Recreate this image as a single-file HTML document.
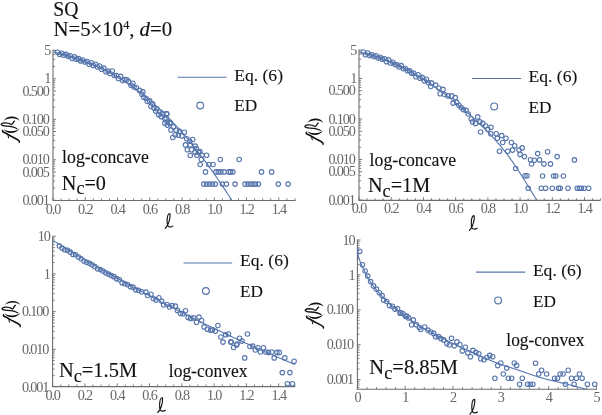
<!DOCTYPE html><html><head><meta charset="utf-8"><style>
html,body{margin:0;padding:0;background:#fff;}
svg{display:block;will-change:transform;}
text{font-family:"Liberation Serif",serif;}
.tl{font-size:14.2px;letter-spacing:-1.15px;fill:#666666;}
.big{font-size:20.6px;fill:#111;stroke:#111;stroke-width:0.12px;}
.ann{font-size:17.9px;fill:#111;stroke:#111;stroke-width:0.12px;}
.leg{font-size:17.7px;fill:#111;stroke:#111;stroke-width:0.1px;}
.fl{font-size:19px;font-style:italic;fill:#111;}
.xl{font-size:19px;font-style:italic;fill:#111;}
</style></head><body>
<svg width="602" height="415" viewBox="0 0 602 415">
<rect width="602" height="415" fill="#fff"/>
<path d="M53 49.6V200.5H295.6" fill="none" stroke="#6e6e6e" stroke-width="1.1"/>
<path d="M53 200.3h3.2M53 188.11h2.1M53 180.98h2.1M53 175.92h2.1M53 171.99h3.2M53 168.78h2.1M53 166.07h2.1M53 163.72h2.1M53 161.65h2.1M53 159.8h3.2M53 147.61h2.1M53 140.48h2.1M53 135.42h2.1M53 131.49h3.2M53 128.28h2.1M53 125.57h2.1M53 123.22h2.1M53 121.15h2.1M53 119.3h3.2M53 107.11h2.1M53 99.98h2.1M53 94.92h2.1M53 90.99h3.2M53 87.78h2.1M53 85.07h2.1M53 82.72h2.1M53 80.65h2.1M53 78.8h3.2M53 66.61h2.1M53 59.48h2.1M53 54.42h2.1M53 50.49h3.2M53 200.5v-3.2M85.26 200.5v-3.2M117.52 200.5v-3.2M149.78 200.5v-3.2M182.04 200.5v-3.2M214.3 200.5v-3.2M246.56 200.5v-3.2M278.82 200.5v-3.2M61.06 200.5v-2.1M69.13 200.5v-2.1M77.2 200.5v-2.1M93.33 200.5v-2.1M101.39 200.5v-2.1M109.46 200.5v-2.1M125.59 200.5v-2.1M133.65 200.5v-2.1M141.72 200.5v-2.1M157.85 200.5v-2.1M165.91 200.5v-2.1M173.98 200.5v-2.1M190.11 200.5v-2.1M198.17 200.5v-2.1M206.24 200.5v-2.1M222.37 200.5v-2.1M230.43 200.5v-2.1M238.5 200.5v-2.1M254.62 200.5v-2.1M262.69 200.5v-2.1M270.75 200.5v-2.1M286.89 200.5v-2.1M294.95 200.5v-2.1" stroke="#6e6e6e" stroke-width="0.9" fill="none"/>
<text transform="translate(50.1 55.09) scale(1.0 1)" text-anchor="end" class="tl">5</text>
<text transform="translate(50.1 83.4) scale(1.0 1)" text-anchor="end" class="tl">1</text>
<text transform="translate(48.6 95.59) scale(1.0 1)" text-anchor="end" class="tl">0.500</text>
<text transform="translate(48.6 123.9) scale(1.0 1)" text-anchor="end" class="tl">0.100</text>
<text transform="translate(48.6 136.09) scale(1.0 1)" text-anchor="end" class="tl">0.050</text>
<text transform="translate(48.6 164.4) scale(1.0 1)" text-anchor="end" class="tl">0.010</text>
<text transform="translate(48.6 176.59) scale(1.0 1)" text-anchor="end" class="tl">0.005</text>
<text transform="translate(48.6 204.9) scale(1.0 1)" text-anchor="end" class="tl">0.001</text>
<text transform="translate(53 213.5) scale(1.0 1)" text-anchor="middle" class="tl">0.0</text>
<text transform="translate(85.26 213.5) scale(1.0 1)" text-anchor="middle" class="tl">0.2</text>
<text transform="translate(117.52 213.5) scale(1.0 1)" text-anchor="middle" class="tl">0.4</text>
<text transform="translate(149.78 213.5) scale(1.0 1)" text-anchor="middle" class="tl">0.6</text>
<text transform="translate(182.04 213.5) scale(1.0 1)" text-anchor="middle" class="tl">0.8</text>
<text transform="translate(214.3 213.5) scale(1.0 1)" text-anchor="middle" class="tl">1.0</text>
<text transform="translate(246.56 213.5) scale(1.0 1)" text-anchor="middle" class="tl">1.2</text>
<text transform="translate(278.82 213.5) scale(1.0 1)" text-anchor="middle" class="tl">1.4</text>
<path d="M359 49.6V200.4H600.5" fill="none" stroke="#6e6e6e" stroke-width="1.1"/>
<path d="M359 200h3.2M359 187.81h2.1M359 180.68h2.1M359 175.62h2.1M359 171.69h3.2M359 168.48h2.1M359 165.77h2.1M359 163.42h2.1M359 161.35h2.1M359 159.5h3.2M359 147.31h2.1M359 140.18h2.1M359 135.12h2.1M359 131.19h3.2M359 127.98h2.1M359 125.27h2.1M359 122.92h2.1M359 120.85h2.1M359 119h3.2M359 106.81h2.1M359 99.68h2.1M359 94.62h2.1M359 90.69h3.2M359 87.48h2.1M359 84.77h2.1M359 82.42h2.1M359 80.35h2.1M359 78.5h3.2M359 66.31h2.1M359 59.18h2.1M359 54.12h2.1M359 50.19h3.2M359 200.4v-3.2M391.22 200.4v-3.2M423.44 200.4v-3.2M455.66 200.4v-3.2M487.88 200.4v-3.2M520.1 200.4v-3.2M552.32 200.4v-3.2M584.54 200.4v-3.2M367.06 200.4v-2.1M375.11 200.4v-2.1M383.17 200.4v-2.1M399.27 200.4v-2.1M407.33 200.4v-2.1M415.38 200.4v-2.1M431.5 200.4v-2.1M439.55 200.4v-2.1M447.61 200.4v-2.1M463.72 200.4v-2.1M471.77 200.4v-2.1M479.82 200.4v-2.1M495.94 200.4v-2.1M503.99 200.4v-2.1M512.05 200.4v-2.1M528.15 200.4v-2.1M536.21 200.4v-2.1M544.26 200.4v-2.1M560.38 200.4v-2.1M568.43 200.4v-2.1M576.49 200.4v-2.1M592.6 200.4v-2.1M600.65 200.4v-2.1" stroke="#6e6e6e" stroke-width="0.9" fill="none"/>
<text transform="translate(356.1 54.79) scale(1.0 1)" text-anchor="end" class="tl">5</text>
<text transform="translate(356.1 83.1) scale(1.0 1)" text-anchor="end" class="tl">1</text>
<text transform="translate(354.6 95.29) scale(1.0 1)" text-anchor="end" class="tl">0.500</text>
<text transform="translate(354.6 123.6) scale(1.0 1)" text-anchor="end" class="tl">0.100</text>
<text transform="translate(354.6 135.79) scale(1.0 1)" text-anchor="end" class="tl">0.050</text>
<text transform="translate(354.6 164.1) scale(1.0 1)" text-anchor="end" class="tl">0.010</text>
<text transform="translate(354.6 176.29) scale(1.0 1)" text-anchor="end" class="tl">0.005</text>
<text transform="translate(354.6 204.6) scale(1.0 1)" text-anchor="end" class="tl">0.001</text>
<text transform="translate(359 213.4) scale(1.0 1)" text-anchor="middle" class="tl">0.0</text>
<text transform="translate(391.22 213.4) scale(1.0 1)" text-anchor="middle" class="tl">0.2</text>
<text transform="translate(423.44 213.4) scale(1.0 1)" text-anchor="middle" class="tl">0.4</text>
<text transform="translate(455.66 213.4) scale(1.0 1)" text-anchor="middle" class="tl">0.6</text>
<text transform="translate(487.88 213.4) scale(1.0 1)" text-anchor="middle" class="tl">0.8</text>
<text transform="translate(520.1 213.4) scale(1.0 1)" text-anchor="middle" class="tl">1.0</text>
<text transform="translate(552.32 213.4) scale(1.0 1)" text-anchor="middle" class="tl">1.2</text>
<text transform="translate(584.54 213.4) scale(1.0 1)" text-anchor="middle" class="tl">1.4</text>
<path d="M52.6 236.2V386.6H295.2" fill="none" stroke="#6e6e6e" stroke-width="1.1"/>
<path d="M52.6 375.65h2.1M52.6 369.01h2.1M52.6 364.3h2.1M52.6 360.65h2.1M52.6 357.66h2.1M52.6 355.14h2.1M52.6 352.95h2.1M52.6 351.03h2.1M52.6 349.3h3.2M52.6 337.95h2.1M52.6 331.31h2.1M52.6 326.6h2.1M52.6 322.95h2.1M52.6 319.96h2.1M52.6 317.44h2.1M52.6 315.25h2.1M52.6 313.33h2.1M52.6 311.6h3.2M52.6 300.25h2.1M52.6 293.61h2.1M52.6 288.9h2.1M52.6 285.25h2.1M52.6 282.26h2.1M52.6 279.74h2.1M52.6 277.55h2.1M52.6 275.63h2.1M52.6 273.9h3.2M52.6 262.55h2.1M52.6 255.91h2.1M52.6 251.2h2.1M52.6 247.55h2.1M52.6 244.56h2.1M52.6 242.04h2.1M52.6 239.85h2.1M52.6 237.93h2.1M52.6 236.2h3.2M52.6 386.6v-3.2M84.9 386.6v-3.2M117.2 386.6v-3.2M149.5 386.6v-3.2M181.8 386.6v-3.2M214.1 386.6v-3.2M246.4 386.6v-3.2M278.7 386.6v-3.2M60.68 386.6v-2.1M68.75 386.6v-2.1M76.83 386.6v-2.1M92.97 386.6v-2.1M101.05 386.6v-2.1M109.12 386.6v-2.1M125.28 386.6v-2.1M133.35 386.6v-2.1M141.43 386.6v-2.1M157.58 386.6v-2.1M165.65 386.6v-2.1M173.72 386.6v-2.1M189.88 386.6v-2.1M197.95 386.6v-2.1M206.03 386.6v-2.1M222.18 386.6v-2.1M230.25 386.6v-2.1M238.33 386.6v-2.1M254.47 386.6v-2.1M262.55 386.6v-2.1M270.62 386.6v-2.1M286.78 386.6v-2.1M294.85 386.6v-2.1" stroke="#6e6e6e" stroke-width="0.9" fill="none"/>
<text transform="translate(49.7 240.8) scale(1.0 1)" text-anchor="end" class="tl">10</text>
<text transform="translate(49.7 278.5) scale(1.0 1)" text-anchor="end" class="tl">1</text>
<text transform="translate(48.2 316.2) scale(1.0 1)" text-anchor="end" class="tl">0.100</text>
<text transform="translate(48.2 353.9) scale(1.0 1)" text-anchor="end" class="tl">0.010</text>
<text transform="translate(48.2 391.6) scale(1.0 1)" text-anchor="end" class="tl">0.001</text>
<text transform="translate(52.6 399.6) scale(1.0 1)" text-anchor="middle" class="tl">0.0</text>
<text transform="translate(84.9 399.6) scale(1.0 1)" text-anchor="middle" class="tl">0.2</text>
<text transform="translate(117.2 399.6) scale(1.0 1)" text-anchor="middle" class="tl">0.4</text>
<text transform="translate(149.5 399.6) scale(1.0 1)" text-anchor="middle" class="tl">0.6</text>
<text transform="translate(181.8 399.6) scale(1.0 1)" text-anchor="middle" class="tl">0.8</text>
<text transform="translate(214.1 399.6) scale(1.0 1)" text-anchor="middle" class="tl">1.0</text>
<text transform="translate(246.4 399.6) scale(1.0 1)" text-anchor="middle" class="tl">1.2</text>
<text transform="translate(278.7 399.6) scale(1.0 1)" text-anchor="middle" class="tl">1.4</text>
<path d="M357.4 239.6V389.3H597" fill="none" stroke="#6e6e6e" stroke-width="1.1"/>
<path d="M357.4 387.34h2.1M357.4 385.01h2.1M357.4 382.98h2.1M357.4 381.2h2.1M357.4 379.6h3.2M357.4 369.09h2.1M357.4 362.95h2.1M357.4 358.59h2.1M357.4 355.21h2.1M357.4 352.44h2.1M357.4 350.11h2.1M357.4 348.08h2.1M357.4 346.3h2.1M357.4 344.7h3.2M357.4 334.19h2.1M357.4 328.05h2.1M357.4 323.69h2.1M357.4 320.31h2.1M357.4 317.54h2.1M357.4 315.21h2.1M357.4 313.18h2.1M357.4 311.4h2.1M357.4 309.8h3.2M357.4 299.29h2.1M357.4 293.15h2.1M357.4 288.79h2.1M357.4 285.41h2.1M357.4 282.64h2.1M357.4 280.31h2.1M357.4 278.28h2.1M357.4 276.5h2.1M357.4 274.9h3.2M357.4 264.39h2.1M357.4 258.25h2.1M357.4 253.89h2.1M357.4 250.51h2.1M357.4 247.74h2.1M357.4 245.41h2.1M357.4 243.38h2.1M357.4 241.6h2.1M357.4 240h3.2M357.4 389.3v-3.2M405.2 389.3v-3.2M453 389.3v-3.2M500.8 389.3v-3.2M548.6 389.3v-3.2M596.4 389.3v-3.2M366.96 389.3v-2.1M376.52 389.3v-2.1M386.08 389.3v-2.1M395.64 389.3v-2.1M414.76 389.3v-2.1M424.32 389.3v-2.1M433.88 389.3v-2.1M443.44 389.3v-2.1M462.56 389.3v-2.1M472.12 389.3v-2.1M481.68 389.3v-2.1M491.24 389.3v-2.1M510.36 389.3v-2.1M519.92 389.3v-2.1M529.48 389.3v-2.1M539.04 389.3v-2.1M558.16 389.3v-2.1M567.72 389.3v-2.1M577.28 389.3v-2.1M586.84 389.3v-2.1" stroke="#6e6e6e" stroke-width="0.9" fill="none"/>
<text transform="translate(354.5 244.6) scale(1.0 1)" text-anchor="end" class="tl">10</text>
<text transform="translate(354.5 279.5) scale(1.0 1)" text-anchor="end" class="tl">1</text>
<text transform="translate(353 314.4) scale(1.0 1)" text-anchor="end" class="tl">0.100</text>
<text transform="translate(353 349.3) scale(1.0 1)" text-anchor="end" class="tl">0.010</text>
<text transform="translate(353 384.2) scale(1.0 1)" text-anchor="end" class="tl">0.001</text>
<text transform="translate(357.4 402.3) scale(1.0 1)" text-anchor="middle" class="tl">0</text>
<text transform="translate(405.2 402.3) scale(1.0 1)" text-anchor="middle" class="tl">1</text>
<text transform="translate(453 402.3) scale(1.0 1)" text-anchor="middle" class="tl">2</text>
<text transform="translate(500.8 402.3) scale(1.0 1)" text-anchor="middle" class="tl">3</text>
<text transform="translate(548.6 402.3) scale(1.0 1)" text-anchor="middle" class="tl">4</text>
<text transform="translate(596.4 402.3) scale(1.0 1)" text-anchor="middle" class="tl">5</text>
<path d="M53.6 51.98 L54.6 52.23 L55.6 52.49 L56.6 52.74 L57.6 53 L58.6 53.26 L59.6 53.53 L60.6 53.8 L61.6 54.07 L62.6 54.34 L63.6 54.62 L64.6 54.9 L65.6 55.18 L66.6 55.47 L67.6 55.77 L68.6 56.06 L69.6 56.36 L70.6 56.67 L71.6 56.98 L72.6 57.29 L73.6 57.61 L74.6 57.93 L75.6 58.25 L76.6 58.58 L77.6 58.92 L78.6 59.26 L79.6 59.61 L80.6 59.96 L81.6 60.31 L82.6 60.67 L83.6 61.04 L84.6 61.41 L85.6 61.78 L86.6 62.17 L87.6 62.55 L88.6 62.95 L89.6 63.35 L90.6 63.75 L91.6 64.16 L92.6 64.58 L93.6 65 L94.6 65.43 L95.6 65.86 L96.6 66.3 L97.6 66.75 L98.6 67.2 L99.6 67.66 L100.6 68.13 L101.6 68.6 L102.6 69.08 L103.6 69.57 L104.6 70.06 L105.6 70.56 L106.6 71.06 L107.6 71.58 L108.6 72.1 L109.6 72.63 L110.6 73.16 L111.6 73.7 L112.6 74.25 L113.6 74.81 L114.6 75.37 L115.6 75.94 L116.6 76.52 L117.6 77.11 L118.6 77.7 L119.6 78.3 L120.6 78.91 L121.6 79.53 L122.6 80.15 L123.6 80.78 L124.6 81.42 L125.6 82.07 L126.6 82.72 L127.6 83.39 L128.6 84.06 L129.6 84.74 L130.6 85.43 L131.6 86.12 L132.6 86.83 L133.6 87.54 L134.6 88.26 L135.6 88.99 L136.6 89.72 L137.6 90.47 L138.6 91.22 L139.6 91.98 L140.6 92.76 L141.6 93.53 L142.6 94.32 L143.6 95.12 L144.6 95.92 L145.6 96.74 L146.6 97.56 L147.6 98.39 L148.6 99.23 L149.6 100.08 L150.6 100.93 L151.6 101.8 L152.6 102.67 L153.6 103.56 L154.6 104.45 L155.6 105.35 L156.6 106.26 L157.6 107.18 L158.6 108.11 L159.6 109.04 L160.6 109.99 L161.6 110.94 L162.6 111.91 L163.6 112.88 L164.6 113.86 L165.6 114.85 L166.6 115.85 L167.6 116.86 L168.6 117.88 L169.6 118.9 L170.6 119.94 L171.6 120.98 L172.6 122.04 L173.6 123.1 L174.6 124.17 L175.6 125.25 L176.6 126.34 L177.6 127.44 L178.6 128.55 L179.6 129.67 L180.6 130.79 L181.6 131.93 L182.6 133.07 L183.6 134.23 L184.6 135.39 L185.6 136.56 L186.6 137.74 L187.6 138.93 L188.6 140.13 L189.6 141.34 L190.6 142.55 L191.6 143.78 L192.6 145.01 L193.6 146.26 L194.6 147.51 L195.6 148.77 L196.6 150.04 L197.6 151.32 L198.6 152.61 L199.6 153.9 L200.6 155.21 L201.6 156.52 L202.6 157.85 L203.6 159.18 L204.6 160.52 L205.6 161.87 L206.6 163.23 L207.6 164.6 L208.6 165.97 L209.6 167.36 L210.6 168.75 L211.6 170.15 L212.6 171.56 L213.6 172.98 L214.6 174.41 L215.6 175.84 L216.6 177.29 L217.6 178.74 L218.6 180.2 L219.6 181.67 L220.6 183.15 L221.6 184.64 L222.6 186.13 L223.6 187.63 L224.6 189.14 L225.6 190.66 L226.6 192.19 L227.6 193.72 L228.6 195.26 L229.6 196.81 L230.6 198.37 L231.6 199.94" fill="none" stroke="#5675ad" stroke-width="1.1"/>
<g fill="none" stroke="#5675ad" stroke-width="1.1"><circle cx="57.6" cy="52.2" r="2.25"/><circle cx="59.7" cy="54.46" r="2.25"/><circle cx="61.8" cy="53.23" r="2.25"/><circle cx="63.9" cy="55.19" r="2.25"/><circle cx="66" cy="54.34" r="2.25"/><circle cx="68.1" cy="56.37" r="2.25"/><circle cx="70.2" cy="55.77" r="2.25"/><circle cx="72.3" cy="58.46" r="2.25"/><circle cx="74.4" cy="56.89" r="2.25"/><circle cx="76.5" cy="59.13" r="2.25"/><circle cx="78.6" cy="58.63" r="2.25"/><circle cx="80.7" cy="60.92" r="2.25"/><circle cx="82.8" cy="59.98" r="2.25"/><circle cx="84.9" cy="61.99" r="2.25"/><circle cx="87" cy="61.51" r="2.25"/><circle cx="89.1" cy="64.19" r="2.25"/><circle cx="91.2" cy="62.73" r="2.25"/><circle cx="93.3" cy="65.51" r="2.25"/><circle cx="95.4" cy="64.29" r="2.25"/><circle cx="97.5" cy="66.96" r="2.25"/><circle cx="99.6" cy="65.96" r="2.25"/><circle cx="101.7" cy="69.32" r="2.25"/><circle cx="103.8" cy="68.09" r="2.25"/><circle cx="105.9" cy="71.69" r="2.25"/><circle cx="108" cy="71.1" r="2.25"/><circle cx="110.1" cy="73.54" r="2.25"/><circle cx="112.2" cy="71.05" r="2.25"/><circle cx="114.3" cy="75.5" r="2.25"/><circle cx="116.4" cy="75.56" r="2.25"/><circle cx="118.5" cy="78.56" r="2.25"/><circle cx="120.6" cy="76.4" r="2.25"/><circle cx="122.7" cy="80.45" r="2.25"/><circle cx="124.8" cy="79.53" r="2.25"/><circle cx="126.8" cy="79.8" r="2.25"/><circle cx="128.6" cy="81.6" r="2.25"/><circle cx="132.8" cy="83.2" r="2.25"/><circle cx="131" cy="85.2" r="2.25"/><circle cx="136.4" cy="87.7" r="2.25"/><circle cx="134" cy="87" r="2.25"/><circle cx="139.5" cy="90.4" r="2.25"/><circle cx="142.8" cy="91.9" r="2.25"/><circle cx="141.9" cy="94.3" r="2.25"/><circle cx="143.7" cy="97.3" r="2.25"/><circle cx="146.1" cy="98.5" r="2.25"/><circle cx="147.3" cy="101.5" r="2.25"/><circle cx="149.7" cy="100.9" r="2.25"/><circle cx="152.7" cy="103.9" r="2.25"/><circle cx="150.9" cy="106.3" r="2.25"/><circle cx="153.9" cy="108.1" r="2.25"/><circle cx="156.9" cy="108.7" r="2.25"/><circle cx="155.7" cy="111.1" r="2.25"/><circle cx="159.9" cy="111.7" r="2.25"/><circle cx="162.3" cy="113.6" r="2.25"/><circle cx="166.6" cy="113.6" r="2.25"/><circle cx="158.7" cy="114.8" r="2.25"/><circle cx="161.1" cy="116.6" r="2.25"/><circle cx="164.8" cy="118.4" r="2.25"/><circle cx="167.2" cy="122" r="2.25"/><circle cx="170.2" cy="122.6" r="2.25"/><circle cx="164.8" cy="123.2" r="2.25"/><circle cx="166.8" cy="114.2" r="2.25"/><circle cx="166.2" cy="119" r="2.25"/><circle cx="169.8" cy="123.3" r="2.25"/><circle cx="167.4" cy="125.1" r="2.25"/><circle cx="173.4" cy="126.9" r="2.25"/><circle cx="171" cy="129.9" r="2.25"/><circle cx="176.4" cy="130.2" r="2.25"/><circle cx="179.5" cy="131.4" r="2.25"/><circle cx="184.3" cy="132.3" r="2.25"/><circle cx="175.2" cy="134.7" r="2.25"/><circle cx="178.3" cy="135.1" r="2.25"/><circle cx="172.8" cy="137.5" r="2.25"/><circle cx="181.9" cy="135.9" r="2.25"/><circle cx="186.7" cy="138.7" r="2.25"/><circle cx="192.7" cy="139.5" r="2.25"/><circle cx="189.7" cy="141.3" r="2.25"/><circle cx="185.5" cy="144.9" r="2.25"/><circle cx="190.3" cy="144.9" r="2.25"/><circle cx="195.1" cy="146.1" r="2.25"/><circle cx="187.3" cy="149.8" r="2.25"/><circle cx="191.5" cy="149.8" r="2.25"/><circle cx="196.3" cy="148.6" r="2.25"/><circle cx="199.9" cy="151.6" r="2.25"/><circle cx="195.1" cy="152.2" r="2.25"/><circle cx="190.3" cy="155.5" r="2.25"/><circle cx="196.9" cy="155.2" r="2.25"/><circle cx="202" cy="155.2" r="2.25"/><circle cx="206.6" cy="155.2" r="2.25"/><circle cx="198.5" cy="152.3" r="2.25"/><circle cx="201.4" cy="159.5" r="2.25"/><circle cx="220.3" cy="159.5" r="2.25"/><circle cx="239.2" cy="159.5" r="2.25"/><circle cx="200.2" cy="164.5" r="2.25"/><circle cx="208.7" cy="164.5" r="2.25"/><circle cx="213" cy="164.5" r="2.25"/><circle cx="205.5" cy="171.9" r="2.25"/><circle cx="215.9" cy="171.9" r="2.25"/><circle cx="218.3" cy="171.9" r="2.25"/><circle cx="220.8" cy="171.9" r="2.25"/><circle cx="224.1" cy="171.9" r="2.25"/><circle cx="228.7" cy="171.9" r="2.25"/><circle cx="230.5" cy="171.9" r="2.25"/><circle cx="232.8" cy="171.9" r="2.25"/><circle cx="261.5" cy="171.9" r="2.25"/><circle cx="271.6" cy="171.9" r="2.25"/><circle cx="203.7" cy="184.1" r="2.25"/><circle cx="206.6" cy="184.1" r="2.25"/><circle cx="209.5" cy="184.1" r="2.25"/><circle cx="212.4" cy="184.1" r="2.25"/><circle cx="215.3" cy="184.1" r="2.25"/><circle cx="222.3" cy="184.1" r="2.25"/><circle cx="226.4" cy="184.1" r="2.25"/><circle cx="235.1" cy="184.1" r="2.25"/><circle cx="245" cy="184.1" r="2.25"/><circle cx="247.9" cy="184.1" r="2.25"/><circle cx="250.8" cy="184.1" r="2.25"/><circle cx="253.1" cy="184.1" r="2.25"/><circle cx="255.5" cy="184.1" r="2.25"/><circle cx="258.4" cy="184.1" r="2.25"/><circle cx="278.3" cy="184.1" r="2.25"/><circle cx="288.1" cy="184.1" r="2.25"/></g>
<path d="M359.2 52.07 L360.2 52.28 L361.2 52.5 L362.2 52.73 L363.2 52.96 L364.2 53.2 L365.2 53.45 L366.2 53.7 L367.2 53.97 L368.2 54.23 L369.2 54.51 L370.2 54.79 L371.2 55.08 L372.2 55.38 L373.2 55.68 L374.2 55.99 L375.2 56.31 L376.2 56.63 L377.2 56.96 L378.2 57.3 L379.2 57.64 L380.2 58 L381.2 58.35 L382.2 58.72 L383.2 59.09 L384.2 59.47 L385.2 59.85 L386.2 60.24 L387.2 60.64 L388.2 61.04 L389.2 61.45 L390.2 61.87 L391.2 62.3 L392.2 62.73 L393.2 63.16 L394.2 63.61 L395.2 64.06 L396.2 64.52 L397.2 64.98 L398.2 65.45 L399.2 65.92 L400.2 66.41 L401.2 66.9 L402.2 67.39 L403.2 67.89 L404.2 68.4 L405.2 68.91 L406.2 69.44 L407.2 69.96 L408.2 70.5 L409.2 71.03 L410.2 71.58 L411.2 72.13 L412.2 72.69 L413.2 73.26 L414.2 73.83 L415.2 74.4 L416.2 74.99 L417.2 75.57 L418.2 76.17 L419.2 76.77 L420.2 77.38 L421.2 77.99 L422.2 78.61 L423.2 79.24 L424.2 79.87 L425.2 80.51 L426.2 81.15 L427.2 81.8 L428.2 82.45 L429.2 83.11 L430.2 83.78 L431.2 84.45 L432.2 85.13 L433.2 85.82 L434.2 86.51 L435.2 87.21 L436.2 87.91 L437.2 88.62 L438.2 89.33 L439.2 90.05 L440.2 90.77 L441.2 91.51 L442.2 92.24 L443.2 92.99 L444.2 93.73 L445.2 94.49 L446.2 95.25 L447.2 96.01 L448.2 96.78 L449.2 97.56 L450.2 98.34 L451.2 99.13 L452.2 99.92 L453.2 100.72 L454.2 101.52 L455.2 102.33 L456.2 103.15 L457.2 103.97 L458.2 104.79 L459.2 105.62 L460.2 106.46 L461.2 107.3 L462.2 108.15 L463.2 109 L464.2 109.86 L465.2 110.72 L466.2 111.59 L467.2 112.47 L468.2 113.35 L469.2 114.23 L470.2 115.12 L471.2 116.02 L472.2 116.92 L473.2 117.82 L474.2 118.73 L475.2 119.65 L476.2 120.57 L477.2 121.5 L478.2 122.44 L479.2 123.39 L480.2 124.34 L481.2 125.3 L482.2 126.27 L483.2 127.25 L484.2 128.24 L485.2 129.24 L486.2 130.25 L487.2 131.26 L488.2 132.3 L489.2 133.34 L490.2 134.39 L491.2 135.46 L492.2 136.54 L493.2 137.63 L494.2 138.73 L495.2 139.85 L496.2 140.99 L497.2 142.14 L498.2 143.3 L499.2 144.48 L500.2 145.67 L501.2 146.88 L502.2 148.11 L503.2 149.35 L504.2 150.62 L505.2 151.89 L506.2 153.19 L507.2 154.51 L508.2 155.84 L509.2 157.2 L510.2 158.57 L511.2 159.96 L512.2 161.38 L513.2 162.81 L514.2 164.27 L515.2 165.74 L516.2 167.24 L517.2 168.75 L518.2 170.27 L519.2 171.81 L520.2 173.37 L521.2 174.94 L522.2 176.52 L523.2 178.11 L524.2 179.71 L525.2 181.32 L526.2 182.94 L527.2 184.56 L528.2 186.19 L529.2 187.82 L530.2 189.46 L531.2 191.1 L532.2 192.74 L533.2 194.39 L534.2 196.03 L535.2 197.67 L536.2 199.31 L537.2 200.94" fill="none" stroke="#5675ad" stroke-width="1.1"/>
<g fill="none" stroke="#5675ad" stroke-width="1.1"><circle cx="363.4" cy="51.93" r="2.25"/><circle cx="365.5" cy="54.7" r="2.25"/><circle cx="367.6" cy="52.99" r="2.25"/><circle cx="369.7" cy="55.44" r="2.25"/><circle cx="371.8" cy="54.77" r="2.25"/><circle cx="373.9" cy="56.49" r="2.25"/><circle cx="376" cy="55.73" r="2.25"/><circle cx="378.1" cy="58.11" r="2.25"/><circle cx="380.2" cy="57.22" r="2.25"/><circle cx="382.3" cy="59.13" r="2.25"/><circle cx="384.4" cy="58.77" r="2.25"/><circle cx="386.5" cy="61.64" r="2.25"/><circle cx="388.6" cy="59.87" r="2.25"/><circle cx="390.7" cy="63.18" r="2.25"/><circle cx="392.8" cy="62.23" r="2.25"/><circle cx="394.9" cy="64.5" r="2.25"/><circle cx="397" cy="64.79" r="2.25"/><circle cx="399.1" cy="66.94" r="2.25"/><circle cx="401.2" cy="65.64" r="2.25"/><circle cx="403.3" cy="68.77" r="2.25"/><circle cx="405.4" cy="68.5" r="2.25"/><circle cx="407.5" cy="70.82" r="2.25"/><circle cx="409.6" cy="70.86" r="2.25"/><circle cx="411.7" cy="73.17" r="2.25"/><circle cx="413.8" cy="73.26" r="2.25"/><circle cx="415.9" cy="76.69" r="2.25"/><circle cx="418" cy="74.71" r="2.25"/><circle cx="420.1" cy="78.29" r="2.25"/><circle cx="422.2" cy="77.39" r="2.25"/><circle cx="424.3" cy="80.85" r="2.25"/><circle cx="426.4" cy="79.28" r="2.25"/><circle cx="428.5" cy="82.84" r="2.25"/><circle cx="431.4" cy="82.9" r="2.25"/><circle cx="430.7" cy="86.5" r="2.25"/><circle cx="435.8" cy="85.1" r="2.25"/><circle cx="438.7" cy="88" r="2.25"/><circle cx="443" cy="89.4" r="2.25"/><circle cx="440.1" cy="93.7" r="2.25"/><circle cx="444.5" cy="94.5" r="2.25"/><circle cx="448.1" cy="95.9" r="2.25"/><circle cx="451.7" cy="95.9" r="2.25"/><circle cx="455.3" cy="97.6" r="2.25"/><circle cx="453.1" cy="103.1" r="2.25"/><circle cx="456.7" cy="102.4" r="2.25"/><circle cx="458.9" cy="105.3" r="2.25"/><circle cx="461.1" cy="107.5" r="2.25"/><circle cx="463.3" cy="109.6" r="2.25"/><circle cx="466.1" cy="110.4" r="2.25"/><circle cx="468.3" cy="114" r="2.25"/><circle cx="471.2" cy="119" r="2.25"/><circle cx="472.6" cy="121.9" r="2.25"/><circle cx="475.5" cy="123.4" r="2.25"/><circle cx="477.7" cy="116.9" r="2.25"/><circle cx="479.9" cy="121.9" r="2.25"/><circle cx="482.8" cy="123.4" r="2.25"/><circle cx="485.7" cy="126" r="2.25"/><circle cx="487.8" cy="129.2" r="2.25"/><circle cx="480.6" cy="132" r="2.25"/><circle cx="491" cy="127.2" r="2.25"/><circle cx="490.8" cy="133.8" r="2.25"/><circle cx="496.2" cy="133.8" r="2.25"/><circle cx="501.7" cy="135.6" r="2.25"/><circle cx="506" cy="138.2" r="2.25"/><circle cx="497.3" cy="138.2" r="2.25"/><circle cx="502.7" cy="142.5" r="2.25"/><circle cx="511.4" cy="142.5" r="2.25"/><circle cx="514.7" cy="145.7" r="2.25"/><circle cx="499.5" cy="151.2" r="2.25"/><circle cx="507.7" cy="151.2" r="2.25"/><circle cx="512.5" cy="150.1" r="2.25"/><circle cx="519" cy="150.1" r="2.25"/><circle cx="522.2" cy="147.9" r="2.25"/><circle cx="520.1" cy="154.4" r="2.25"/><circle cx="524.4" cy="156.6" r="2.25"/><circle cx="515.7" cy="168.5" r="2.25"/><circle cx="537.7" cy="153.6" r="2.25"/><circle cx="547.6" cy="151.7" r="2.25"/><circle cx="557.2" cy="156.6" r="2.25"/><circle cx="574.4" cy="159.9" r="2.25"/><circle cx="530.5" cy="159.8" r="2.25"/><circle cx="534.3" cy="160.2" r="2.25"/><circle cx="539.5" cy="159.9" r="2.25"/><circle cx="531.6" cy="164" r="2.25"/><circle cx="543.9" cy="163.9" r="2.25"/><circle cx="550.5" cy="163.9" r="2.25"/><circle cx="525" cy="175.8" r="2.25"/><circle cx="527" cy="175.8" r="2.25"/><circle cx="542.6" cy="176" r="2.25"/><circle cx="553.6" cy="176" r="2.25"/><circle cx="555.9" cy="176" r="2.25"/><circle cx="563.4" cy="176" r="2.25"/><circle cx="528.2" cy="188.3" r="2.25"/><circle cx="541.3" cy="188.3" r="2.25"/><circle cx="545.6" cy="188.3" r="2.25"/><circle cx="552.3" cy="188.3" r="2.25"/><circle cx="558.5" cy="188.3" r="2.25"/><circle cx="560.2" cy="188.3" r="2.25"/><circle cx="568" cy="188.3" r="2.25"/><circle cx="577.2" cy="188.3" r="2.25"/><circle cx="579.4" cy="188.3" r="2.25"/><circle cx="581.4" cy="188.3" r="2.25"/><circle cx="584.1" cy="188.3" r="2.25"/><circle cx="588.7" cy="188.3" r="2.25"/></g>
<path d="M53.3 240.63 L54.3 241.24 L55.3 241.85 L56.3 242.46 L57.3 243.07 L58.3 243.68 L59.3 244.29 L60.3 244.89 L61.3 245.5 L62.3 246.1 L63.3 246.71 L64.3 247.31 L65.3 247.91 L66.3 248.52 L67.3 249.12 L68.3 249.72 L69.3 250.31 L70.3 250.91 L71.3 251.51 L72.3 252.11 L73.3 252.7 L74.3 253.3 L75.3 253.89 L76.3 254.48 L77.3 255.08 L78.3 255.67 L79.3 256.26 L80.3 256.85 L81.3 257.44 L82.3 258.03 L83.3 258.61 L84.3 259.2 L85.3 259.79 L86.3 260.37 L87.3 260.96 L88.3 261.54 L89.3 262.12 L90.3 262.7 L91.3 263.28 L92.3 263.86 L93.3 264.44 L94.3 265.02 L95.3 265.6 L96.3 266.18 L97.3 266.75 L98.3 267.33 L99.3 267.9 L100.3 268.48 L101.3 269.05 L102.3 269.62 L103.3 270.19 L104.3 270.76 L105.3 271.33 L106.3 271.9 L107.3 272.47 L108.3 273.03 L109.3 273.6 L110.3 274.17 L111.3 274.73 L112.3 275.29 L113.3 275.86 L114.3 276.42 L115.3 276.98 L116.3 277.54 L117.3 278.1 L118.3 278.66 L119.3 279.22 L120.3 279.77 L121.3 280.33 L122.3 280.89 L123.3 281.44 L124.3 281.99 L125.3 282.55 L126.3 283.1 L127.3 283.65 L128.3 284.2 L129.3 284.75 L130.3 285.3 L131.3 285.85 L132.3 286.4 L133.3 286.94 L134.3 287.49 L135.3 288.03 L136.3 288.58 L137.3 289.12 L138.3 289.66 L139.3 290.2 L140.3 290.74 L141.3 291.28 L142.3 291.82 L143.3 292.36 L144.3 292.9 L145.3 293.44 L146.3 293.97 L147.3 294.51 L148.3 295.04 L149.3 295.57 L150.3 296.11 L151.3 296.64 L152.3 297.17 L153.3 297.7 L154.3 298.23 L155.3 298.76 L156.3 299.28 L157.3 299.81 L158.3 300.34 L159.3 300.86 L160.3 301.39 L161.3 301.91 L162.3 302.43 L163.3 302.95 L164.3 303.48 L165.3 304 L166.3 304.52 L167.3 305.03 L168.3 305.55 L169.3 306.07 L170.3 306.58 L171.3 307.1 L172.3 307.61 L173.3 308.13 L174.3 308.64 L175.3 309.15 L176.3 309.66 L177.3 310.17 L178.3 310.68 L179.3 311.19 L180.3 311.7 L181.3 312.21 L182.3 312.71 L183.3 313.22 L184.3 313.72 L185.3 314.23 L186.3 314.73 L187.3 315.23 L188.3 315.73 L189.3 316.24 L190.3 316.73 L191.3 317.23 L192.3 317.73 L193.3 318.23 L194.3 318.73 L195.3 319.22 L196.3 319.72 L197.3 320.21 L198.3 320.7 L199.3 321.2 L200.3 321.69 L201.3 322.18 L202.3 322.67 L203.3 323.16 L204.3 323.64 L205.3 324.13 L206.3 324.62 L207.3 325.1 L208.3 325.59 L209.3 326.07 L210.3 326.56 L211.3 327.04 L212.3 327.52 L213.3 328 L214.3 328.48 L215.3 328.96 L216.3 329.44 L217.3 329.92 L218.3 330.39 L219.3 330.87 L220.3 331.35 L221.3 331.82 L222.3 332.29 L223.3 332.77 L224.3 333.24 L225.3 333.71 L226.3 334.18 L227.3 334.65 L228.3 335.12 L229.3 335.58 L230.3 336.05 L231.3 336.52 L232.3 336.98 L233.3 337.45 L234.3 337.91 L235.3 338.37 L236.3 338.84 L237.3 339.3 L238.3 339.76 L239.3 340.22 L240.3 340.68 L241.3 341.13 L242.3 341.59 L243.3 342.05 L244.3 342.5 L245.3 342.96 L246.3 343.41 L247.3 343.86 L248.3 344.32 L249.3 344.77 L250.3 345.22 L251.3 345.67 L252.3 346.12 L253.3 346.56 L254.3 347.01 L255.3 347.46 L256.3 347.9 L257.3 348.35 L258.3 348.79 L259.3 349.24 L260.3 349.68 L261.3 350.12 L262.3 350.56 L263.3 351 L264.3 351.44 L265.3 351.88 L266.3 352.31 L267.3 352.75 L268.3 353.19 L269.3 353.62 L270.3 354.06 L271.3 354.49 L272.3 354.92 L273.3 355.35 L274.3 355.78 L275.3 356.21 L276.3 356.64 L277.3 357.07 L278.3 357.5 L279.3 357.93 L280.3 358.35 L281.3 358.78 L282.3 359.2 L283.3 359.62 L284.3 360.05 L285.3 360.47 L286.3 360.89 L287.3 361.31 L288.3 361.73 L289.3 362.15 L290.3 362.57 L291.3 362.98 L292.3 363.4 L293.3 363.81 L294.3 364.23 L295.2 364.6" fill="none" stroke="#5675ad" stroke-width="1.1"/>
<g fill="none" stroke="#5675ad" stroke-width="1.1"><circle cx="59.3" cy="246" r="2.25"/><circle cx="62.03" cy="248.1" r="2.25"/><circle cx="64.76" cy="249.82" r="2.25"/><circle cx="67.49" cy="250.31" r="2.25"/><circle cx="70.22" cy="252.14" r="2.25"/><circle cx="72.95" cy="254.38" r="2.25"/><circle cx="75.68" cy="254.77" r="2.25"/><circle cx="78.41" cy="257.03" r="2.25"/><circle cx="81.14" cy="258.77" r="2.25"/><circle cx="83.87" cy="260.94" r="2.25"/><circle cx="86.6" cy="262.24" r="2.25"/><circle cx="89.33" cy="263.34" r="2.25"/><circle cx="92.06" cy="264.86" r="2.25"/><circle cx="94.79" cy="266.46" r="2.25"/><circle cx="97.52" cy="268.79" r="2.25"/><circle cx="100.25" cy="269.44" r="2.25"/><circle cx="102.98" cy="271.01" r="2.25"/><circle cx="105.71" cy="272.82" r="2.25"/><circle cx="108.44" cy="274.12" r="2.25"/><circle cx="111.17" cy="275.59" r="2.25"/><circle cx="113.9" cy="276.67" r="2.25"/><circle cx="116.63" cy="278.65" r="2.25"/><circle cx="119.36" cy="279.75" r="2.25"/><circle cx="122.09" cy="282.67" r="2.25"/><circle cx="124.82" cy="283.68" r="2.25"/><circle cx="127.55" cy="284.54" r="2.25"/><circle cx="130.28" cy="286.62" r="2.25"/><circle cx="133.01" cy="287.17" r="2.25"/><circle cx="135.74" cy="289.87" r="2.25"/><circle cx="138.47" cy="290.36" r="2.25"/><circle cx="141.7" cy="291.8" r="2.25"/><circle cx="145.9" cy="292.1" r="2.25"/><circle cx="147.6" cy="295.5" r="2.25"/><circle cx="151" cy="294.3" r="2.25"/><circle cx="153.2" cy="298.5" r="2.25"/><circle cx="156" cy="299.9" r="2.25"/><circle cx="158.9" cy="297.7" r="2.25"/><circle cx="161.6" cy="301.1" r="2.25"/><circle cx="163.6" cy="305" r="2.25"/><circle cx="167" cy="304.5" r="2.25"/><circle cx="169.5" cy="307" r="2.25"/><circle cx="172" cy="305.6" r="2.25"/><circle cx="175.4" cy="306.1" r="2.25"/><circle cx="177.4" cy="310.4" r="2.25"/><circle cx="180.5" cy="313.4" r="2.25"/><circle cx="183" cy="313.7" r="2.25"/><circle cx="185.5" cy="310.7" r="2.25"/><circle cx="188.1" cy="317.4" r="2.25"/><circle cx="190.6" cy="318.4" r="2.25"/><circle cx="193.6" cy="317.9" r="2.25"/><circle cx="196.5" cy="322.2" r="2.25"/><circle cx="199" cy="317.1" r="2.25"/><circle cx="201.6" cy="320.5" r="2.25"/><circle cx="204.1" cy="326.9" r="2.25"/><circle cx="207.5" cy="329.2" r="2.25"/><circle cx="210.5" cy="330.3" r="2.25"/><circle cx="212.5" cy="329.7" r="2.25"/><circle cx="215.4" cy="331.1" r="2.25"/><circle cx="217.9" cy="325.5" r="2.25"/><circle cx="220.9" cy="337" r="2.25"/><circle cx="223" cy="342.1" r="2.25"/><circle cx="225.7" cy="334.8" r="2.25"/><circle cx="228.5" cy="334" r="2.25"/><circle cx="231.1" cy="342.1" r="2.25"/><circle cx="233.6" cy="347.5" r="2.25"/><circle cx="237" cy="344.1" r="2.25"/><circle cx="239.5" cy="338.2" r="2.25"/><circle cx="230.9" cy="341.9" r="2.25"/><circle cx="236.5" cy="344.9" r="2.25"/><circle cx="241.9" cy="341.1" r="2.25"/><circle cx="247.4" cy="334" r="2.25"/><circle cx="244.7" cy="357.9" r="2.25"/><circle cx="249.9" cy="346.5" r="2.25"/><circle cx="252.8" cy="346.1" r="2.25"/><circle cx="255.3" cy="350" r="2.25"/><circle cx="257.9" cy="347.8" r="2.25"/><circle cx="260.4" cy="352" r="2.25"/><circle cx="263.4" cy="347.8" r="2.25"/><circle cx="265.8" cy="352" r="2.25"/><circle cx="268.5" cy="352.4" r="2.25"/><circle cx="271.9" cy="352" r="2.25"/><circle cx="274.2" cy="357.9" r="2.25"/><circle cx="276.9" cy="352.4" r="2.25"/><circle cx="279.3" cy="352.4" r="2.25"/><circle cx="284.8" cy="357.9" r="2.25"/><circle cx="294.1" cy="361.3" r="2.25"/><circle cx="282.3" cy="372.6" r="2.25"/><circle cx="289.9" cy="372.6" r="2.25"/><circle cx="287.4" cy="383.7" r="2.25"/><circle cx="292.4" cy="383.7" r="2.25"/></g>
<path d="M357.5 247.5 L358 254.25 L358.5 256.98 L359 258.74 L359.5 260.03 L360 261.24 L360.5 262.53 L361 263.7 L361.5 264.8 L362 265.86 L362.5 266.93 L363 267.98 L363.5 269 L364 270.01 L364.5 271 L365 272 L365.5 273 L366 274.02 L366.5 275.04 L367 276.04 L367.5 277.02 L368 277.94 L368.5 278.82 L369 279.67 L369.5 280.49 L370 281.28 L370.5 282.04 L371 282.78 L371.5 283.5 L372 284.19 L372.5 284.86 L373 285.51 L373.5 286.14 L374 286.76 L374.5 287.37 L375 287.97 L375.5 288.57 L376 289.16 L376.5 289.76 L377 290.36 L377.5 290.96 L378 291.57 L378.5 292.17 L379 292.78 L379.5 293.38 L380 293.97 L380.5 294.56 L381 295.14 L381.5 295.72 L382 296.28 L382.5 296.83 L383 297.37 L383.5 297.89 L384 298.4 L384.5 298.9 L385 299.39 L385.5 299.88 L386 300.36 L386.5 300.84 L387 301.31 L387.5 301.77 L388 302.23 L388.5 302.69 L389 303.14 L389.5 303.59 L390 304.03 L390.5 304.47 L391 304.91 L391.5 305.34 L392 305.76 L392.5 306.19 L393 306.61 L393.5 307.02 L394 307.43 L394.5 307.84 L395 308.25 L395.5 308.66 L396 309.06 L396.5 309.46 L397 309.86 L397.5 310.25 L398 310.64 L398.5 311.04 L399 311.43 L399.5 311.81 L400 312.2 L400.5 312.59 L401 312.97 L401.5 313.35 L402 313.73 L402.5 314.11 L403 314.48 L403.5 314.85 L404 315.23 L404.5 315.59 L405 315.96 L405.5 316.33 L406 316.69 L406.5 317.05 L407 317.41 L407.5 317.77 L408 318.12 L408.5 318.47 L409 318.83 L409.5 319.17 L410 319.52 L410.5 319.87 L411 320.21 L411.5 320.55 L412 320.89 L412.5 321.23 L413 321.56 L413.5 321.89 L414 322.22 L414.5 322.55 L415 322.88 L415.5 323.2 L416 323.53 L416.5 323.85 L417 324.16 L417.5 324.48 L418 324.79 L418.5 325.11 L419 325.42 L419.5 325.72 L420 326.03 L420.5 326.33 L421 326.63 L421.5 326.93 L422 327.22 L422.5 327.52 L423 327.81 L423.5 328.1 L424 328.39 L424.5 328.67 L425 328.96 L425.5 329.24 L426 329.52 L426.5 329.8 L427 330.07 L427.5 330.35 L428 330.62 L428.5 330.9 L429 331.17 L429.5 331.44 L430 331.71 L430.5 331.98 L431 332.24 L431.5 332.51 L432 332.78 L432.5 333.04 L433 333.31 L433.5 333.57 L434 333.83 L434.5 334.1 L435 334.36 L435.5 334.62 L436 334.89 L436.5 335.15 L437 335.41 L437.5 335.67 L438 335.94 L438.5 336.2 L439 336.46 L439.5 336.73 L440 336.99 L440.5 337.25 L441 337.51 L441.5 337.77 L442 338.03 L442.5 338.29 L443 338.55 L443.5 338.81 L444 339.06 L444.5 339.32 L445 339.58 L445.5 339.83 L446 340.09 L446.5 340.34 L447 340.6 L447.5 340.85 L448 341.1 L448.5 341.36 L449 341.61 L449.5 341.86 L450 342.11 L450.5 342.36 L451 342.61 L451.5 342.85 L452 343.1 L452.5 343.35 L453 343.59 L453.5 343.83 L454 344.08 L454.5 344.32 L455 344.56 L455.5 344.8 L456 345.04 L456.5 345.28 L457 345.52 L457.5 345.76 L458 345.99 L458.5 346.23 L459 346.46 L459.5 346.7 L460 346.93 L460.5 347.16 L461 347.39 L461.5 347.62 L462 347.85 L462.5 348.08 L463 348.3 L463.5 348.53 L464 348.75 L464.5 348.98 L465 349.2 L465.5 349.43 L466 349.65 L466.5 349.87 L467 350.09 L467.5 350.31 L468 350.53 L468.5 350.75 L469 350.97 L469.5 351.19 L470 351.41 L470.5 351.63 L471 351.85 L471.5 352.07 L472 352.28 L472.5 352.5 L473 352.72 L473.5 352.94 L474 353.15 L474.5 353.37 L475 353.59 L475.5 353.81 L476 354.02 L476.5 354.24 L477 354.46 L477.5 354.67 L478 354.89 L478.5 355.11 L479 355.33 L479.5 355.55 L480 355.77 L480.5 355.99 L481 356.22 L481.5 356.44 L482 356.66 L482.5 356.88 L483 357.11 L483.5 357.33 L484 357.55 L484.5 357.77 L485 358 L485.5 358.22 L486 358.44 L486.5 358.66 L487 358.88 L487.5 359.1 L488 359.32 L488.5 359.54 L489 359.76 L489.5 359.97 L490 360.19 L490.5 360.4 L491 360.62 L491.5 360.83 L492 361.04 L492.5 361.25 L493 361.46 L493.5 361.67 L494 361.88 L494.5 362.08 L495 362.28 L495.5 362.48 L496 362.68 L496.5 362.88 L497 363.07 L497.5 363.27 L498 363.46 L498.5 363.65 L499 363.83 L499.5 364.02 L500 364.2 L500.5 364.38 L501 364.55 L501.5 364.73 L502 364.9 L502.5 365.07 L503 365.23 L503.5 365.4 L504 365.56 L504.5 365.72 L505 365.88 L505.5 366.03 L506 366.19 L506.5 366.35 L507 366.5 L507.5 366.65 L508 366.81 L508.5 366.96 L509 367.11 L509.5 367.26 L510 367.42 L510.5 367.57 L511 367.72 L511.5 367.88 L512 368.04 L512.5 368.19 L513 368.35 L513.5 368.51 L514 368.67 L514.5 368.83 L515 369 L515.5 369.17 L516 369.34 L516.5 369.5 L517 369.68 L517.5 369.85 L518 370.02 L518.5 370.19 L519 370.37 L519.5 370.54 L520 370.72 L520.5 370.89 L521 371.07 L521.5 371.24 L522 371.42 L522.5 371.6 L523 371.77 L523.5 371.95 L524 372.12 L524.5 372.3 L525 372.47 L525.5 372.65 L526 372.82 L526.5 372.99 L527 373.16 L527.5 373.33 L528 373.5 L528.5 373.67 L529 373.83 L529.5 374 L530 374.17 L530.5 374.34 L531 374.51 L531.5 374.68 L532 374.85 L532.5 375.01 L533 375.18 L533.5 375.35 L534 375.52 L534.5 375.68 L535 375.85 L535.5 376.01 L536 376.18 L536.5 376.34 L537 376.5 L537.5 376.66 L538 376.82 L538.5 376.97 L539 377.13 L539.5 377.28 L540 377.43 L540.5 377.58 L541 377.73 L541.5 377.87 L542 378.01 L542.5 378.15 L543 378.29 L543.5 378.43 L544 378.56 L544.5 378.7 L545 378.83 L545.5 378.96 L546 379.09 L546.5 379.22 L547 379.35 L547.5 379.47 L548 379.6 L548.5 379.72 L549 379.85 L549.5 379.97 L550 380.1 L550.5 380.22 L551 380.34 L551.5 380.46 L552 380.59 L552.5 380.71 L553 380.83 L553.5 380.95 L554 381.08 L554.5 381.2 L555 381.32 L555.5 381.45 L556 381.57 L556.5 381.69 L557 381.81 L557.5 381.93 L558 382.05 L558.5 382.17 L559 382.29 L559.5 382.41 L560 382.53 L560.5 382.65 L561 382.77 L561.5 382.89 L562 383 L562.5 383.12 L563 383.24 L563.5 383.36 L564 383.48 L564.5 383.6 L565 383.72 L565.5 383.84 L566 383.96 L566.5 384.08 L567 384.2 L567.5 384.33 L568 384.45 L568.5 384.58 L569 384.7 L569.5 384.83 L570 384.96 L570.5 385.08 L571 385.21 L571.5 385.34 L572 385.47 L572.5 385.6 L573 385.73 L573.5 385.86 L574 385.99 L574.5 386.12 L575 386.25 L575.5 386.38 L576 386.51 L576.5 386.64 L577 386.77 L577.5 386.9 L578 387.03 L578.5 387.16 L579 387.28 L579.5 387.41 L580 387.54 L580.5 387.66 L581 387.79 L581.5 387.92 L582 388.04 L582.5 388.17 L583 388.3 L583.5 388.42 L584 388.55 L584.5 388.67 L585 388.8 L585.4 388.9" fill="none" stroke="#5675ad" stroke-width="1.1"/>
<g fill="none" stroke="#5675ad" stroke-width="1.1"><circle cx="359.8" cy="251.3" r="2.25"/><circle cx="362.4" cy="264.8" r="2.25"/><circle cx="365.1" cy="271" r="2.25"/><circle cx="367.7" cy="276.1" r="2.25"/><circle cx="370.6" cy="281.6" r="2.25"/><circle cx="373.5" cy="285.9" r="2.25"/><circle cx="376.4" cy="289.1" r="2.25"/><circle cx="379.3" cy="292.7" r="2.25"/><circle cx="382.1" cy="295.6" r="2.25"/><circle cx="383.6" cy="300.1" r="2.25"/><circle cx="386.7" cy="301.5" r="2.25"/><circle cx="389.4" cy="305.6" r="2.25"/><circle cx="392.4" cy="306.2" r="2.25"/><circle cx="394.9" cy="309.1" r="2.25"/><circle cx="397.6" cy="308.7" r="2.25"/><circle cx="400" cy="313.2" r="2.25"/><circle cx="403.1" cy="313.8" r="2.25"/><circle cx="405.7" cy="316.4" r="2.25"/><circle cx="408.6" cy="317.9" r="2.25"/><circle cx="413.3" cy="319.9" r="2.25"/><circle cx="401" cy="312.7" r="2.25"/><circle cx="406.7" cy="316" r="2.25"/><circle cx="411.6" cy="324.7" r="2.25"/><circle cx="416.4" cy="324.7" r="2.25"/><circle cx="419.3" cy="327.6" r="2.25"/><circle cx="420.8" cy="329.5" r="2.25"/><circle cx="424.7" cy="327" r="2.25"/><circle cx="427.9" cy="330.1" r="2.25"/><circle cx="430.8" cy="332" r="2.25"/><circle cx="433.7" cy="333.4" r="2.25"/><circle cx="435.6" cy="336.8" r="2.25"/><circle cx="438.5" cy="336.6" r="2.25"/><circle cx="440.8" cy="338.6" r="2.25"/><circle cx="443.7" cy="339.9" r="2.25"/><circle cx="446.8" cy="343.6" r="2.25"/><circle cx="449.3" cy="345" r="2.25"/><circle cx="451.5" cy="338.2" r="2.25"/><circle cx="454.3" cy="345.7" r="2.25"/><circle cx="456.9" cy="341.9" r="2.25"/><circle cx="459.9" cy="344.5" r="2.25"/><circle cx="462.3" cy="350.9" r="2.25"/><circle cx="465.3" cy="347.3" r="2.25"/><circle cx="467.8" cy="352.9" r="2.25"/><circle cx="470.4" cy="356.8" r="2.25"/><circle cx="472.9" cy="350.4" r="2.25"/><circle cx="475.8" cy="352.4" r="2.25"/><circle cx="478.8" cy="353.8" r="2.25"/><circle cx="480.8" cy="358.8" r="2.25"/><circle cx="483.9" cy="359.7" r="2.25"/><circle cx="486.9" cy="357.5" r="2.25"/><circle cx="489.8" cy="355.4" r="2.25"/><circle cx="492.7" cy="356.8" r="2.25"/><circle cx="494.9" cy="378.2" r="2.25"/><circle cx="497.7" cy="365.6" r="2.25"/><circle cx="500.8" cy="363" r="2.25"/><circle cx="503.3" cy="374" r="2.25"/><circle cx="506.7" cy="368.1" r="2.25"/><circle cx="508.4" cy="378.2" r="2.25"/><circle cx="511.7" cy="378.2" r="2.25"/><circle cx="514.3" cy="363" r="2.25"/><circle cx="516.6" cy="365.4" r="2.25"/><circle cx="535.6" cy="363.2" r="2.25"/><circle cx="541.6" cy="370.3" r="2.25"/><circle cx="538.7" cy="374" r="2.25"/><circle cx="546.6" cy="374" r="2.25"/><circle cx="522.3" cy="378.3" r="2.25"/><circle cx="519.7" cy="384.2" r="2.25"/><circle cx="527.6" cy="384.2" r="2.25"/><circle cx="530.3" cy="384.2" r="2.25"/><circle cx="532.9" cy="384.2" r="2.25"/><circle cx="554.6" cy="378.3" r="2.25"/><circle cx="557.5" cy="378.3" r="2.25"/><circle cx="560.2" cy="374" r="2.25"/><circle cx="563.1" cy="374" r="2.25"/><circle cx="568.2" cy="370.3" r="2.25"/><circle cx="565.5" cy="384.2" r="2.25"/><circle cx="571.5" cy="378.3" r="2.25"/><circle cx="574.1" cy="384.2" r="2.25"/><circle cx="576.4" cy="378.3" r="2.25"/><circle cx="579.5" cy="374" r="2.25"/><circle cx="582.1" cy="378.3" r="2.25"/><circle cx="587.4" cy="384.2" r="2.25"/><circle cx="594.7" cy="384.2" r="2.25"/></g>
<text x="53.3" y="16.2" class="big" textLength="25.2" lengthAdjust="spacingAndGlyphs">SQ</text>
<text x="53.4" y="35.6" class="big" textLength="118.8" lengthAdjust="spacingAndGlyphs">N=5×10<tspan font-size="12" dy="-6.4">4</tspan><tspan dy="6.4">, </tspan><tspan font-style="italic">d</tspan>=0</text>
<path d="M177.6 77.3H226.6" stroke="#5675ad" stroke-width="1.1"/>
<circle cx="200.2" cy="105.5" r="3.4" fill="none" stroke="#5675ad" stroke-width="1.2"/>
<text x="234.2" y="81.0" class="leg" textLength="48.8" lengthAdjust="spacingAndGlyphs">Eq. (6)</text>
<text x="234.2" y="111.3" class="leg" textLength="23" lengthAdjust="spacingAndGlyphs">ED</text>
<path d="M471.9 78.5H521.2" stroke="#5675ad" stroke-width="1.1"/>
<circle cx="494.2" cy="106.4" r="3.4" fill="none" stroke="#5675ad" stroke-width="1.2"/>
<text x="528.5" y="82.3" class="leg" textLength="48.8" lengthAdjust="spacingAndGlyphs">Eq. (6)</text>
<text x="528.5" y="112.8" class="leg" textLength="23" lengthAdjust="spacingAndGlyphs">ED</text>
<path d="M183.6 263.0H232.2" stroke="#5675ad" stroke-width="1.1"/>
<circle cx="205.9" cy="291.0" r="3.4" fill="none" stroke="#5675ad" stroke-width="1.2"/>
<text x="240.0" y="266.3" class="leg" textLength="48.8" lengthAdjust="spacingAndGlyphs">Eq. (6)</text>
<text x="240.0" y="297.2" class="leg" textLength="23" lengthAdjust="spacingAndGlyphs">ED</text>
<path d="M476.0 272.1H525.1" stroke="#5675ad" stroke-width="1.1"/>
<circle cx="498.1" cy="300.4" r="3.4" fill="none" stroke="#5675ad" stroke-width="1.2"/>
<text x="532.9" y="276.1" class="leg" textLength="48.8" lengthAdjust="spacingAndGlyphs">Eq. (6)</text>
<text x="532.9" y="306.5" class="leg" textLength="23" lengthAdjust="spacingAndGlyphs">ED</text>
<text x="62.1" y="162.9" class="ann" textLength="86.8" lengthAdjust="spacingAndGlyphs">log-concave</text>
<text x="369.6" y="166.1" class="ann" textLength="86.6" lengthAdjust="spacingAndGlyphs">log-concave</text>
<text x="168.8" y="377.4" class="ann" textLength="78.6" lengthAdjust="spacingAndGlyphs">log-convex</text>
<text x="506.3" y="345.5" class="ann" textLength="78.2" lengthAdjust="spacingAndGlyphs">log-convex</text>
<text x="61.8" y="189.6" class="big" textLength="44.2" lengthAdjust="spacingAndGlyphs">N<tspan font-size="18.5" dy="4.8">c</tspan><tspan dy="-4.8">=0</tspan></text>
<text x="368.0" y="191.7" class="big" textLength="62.2" lengthAdjust="spacingAndGlyphs">N<tspan font-size="18.5" dy="4.8">c</tspan><tspan dy="-4.8">=1M</tspan></text>
<text x="58.9" y="376.7" class="big" textLength="78.2" lengthAdjust="spacingAndGlyphs">N<tspan font-size="18.5" dy="4.8">c</tspan><tspan dy="-4.8">=1.5M</tspan></text>
<text x="369.3" y="374.4" class="big" textLength="88.8" lengthAdjust="spacingAndGlyphs">N<tspan font-size="18.5" dy="4.8">c</tspan><tspan dy="-4.8">=8.85M</tspan></text>
<g transform="translate(-0.9 111.7)"><path d="M4.5 9.3C7.4 3.8 17.6 3.2 20.5 9.1C17.2 5.6 8.2 5.8 4.5 9.3ZM4.5 17.3C7.4 23 17.6 22.6 20.5 16.5C17.2 20.3 8.2 20.5 4.5 17.3Z" fill="#111"/><path d="M18.1 17.0C15.5 15.4 12 14.6 7.5 14.4C3.5 14.2 1.5 13.4 2.2 12.3C3.2 10.8 9 10.6 11.8 12.6C13.2 13.6 13.4 10.8 15.7 9.1" fill="none" stroke="#111" stroke-width="1.3"/><path d="M4.0 18.4C3.0 18.9 3.4 20.1 4.6 20.6C7.5 21.8 10.5 23.8 13.5 25.3C16.5 26.8 19 28 20 29.3C20.5 30 20.2 30.7 19.6 30.7" fill="none" stroke="#111" stroke-width="1.6"/><path d="M8.7 22.9L9.6 26.6" stroke="#111" stroke-width="1.0"/></g>
<g transform="translate(302.8 113.7)"><path d="M4.5 9.3C7.4 3.8 17.6 3.2 20.5 9.1C17.2 5.6 8.2 5.8 4.5 9.3ZM4.5 17.3C7.4 23 17.6 22.6 20.5 16.5C17.2 20.3 8.2 20.5 4.5 17.3Z" fill="#111"/><path d="M18.1 17.0C15.5 15.4 12 14.6 7.5 14.4C3.5 14.2 1.5 13.4 2.2 12.3C3.2 10.8 9 10.6 11.8 12.6C13.2 13.6 13.4 10.8 15.7 9.1" fill="none" stroke="#111" stroke-width="1.3"/><path d="M4.0 18.4C3.0 18.9 3.4 20.1 4.6 20.6C7.5 21.8 10.5 23.8 13.5 25.3C16.5 26.8 19 28 20 29.3C20.5 30 20.2 30.7 19.6 30.7" fill="none" stroke="#111" stroke-width="1.6"/><path d="M8.7 22.9L9.6 26.6" stroke="#111" stroke-width="1.0"/></g>
<g transform="translate(0 296)"><path d="M4.5 9.3C7.4 3.8 17.6 3.2 20.5 9.1C17.2 5.6 8.2 5.8 4.5 9.3ZM4.5 17.3C7.4 23 17.6 22.6 20.5 16.5C17.2 20.3 8.2 20.5 4.5 17.3Z" fill="#111"/><path d="M18.1 17.0C15.5 15.4 12 14.6 7.5 14.4C3.5 14.2 1.5 13.4 2.2 12.3C3.2 10.8 9 10.6 11.8 12.6C13.2 13.6 13.4 10.8 15.7 9.1" fill="none" stroke="#111" stroke-width="1.3"/><path d="M4.0 18.4C3.0 18.9 3.4 20.1 4.6 20.6C7.5 21.8 10.5 23.8 13.5 25.3C16.5 26.8 19 28 20 29.3C20.5 30 20.2 30.7 19.6 30.7" fill="none" stroke="#111" stroke-width="1.6"/><path d="M8.7 22.9L9.6 26.6" stroke="#111" stroke-width="1.0"/></g>
<g transform="translate(303.2 297.6)"><path d="M4.5 9.3C7.4 3.8 17.6 3.2 20.5 9.1C17.2 5.6 8.2 5.8 4.5 9.3ZM4.5 17.3C7.4 23 17.6 22.6 20.5 16.5C17.2 20.3 8.2 20.5 4.5 17.3Z" fill="#111"/><path d="M18.1 17.0C15.5 15.4 12 14.6 7.5 14.4C3.5 14.2 1.5 13.4 2.2 12.3C3.2 10.8 9 10.6 11.8 12.6C13.2 13.6 13.4 10.8 15.7 9.1" fill="none" stroke="#111" stroke-width="1.3"/><path d="M4.0 18.4C3.0 18.9 3.4 20.1 4.6 20.6C7.5 21.8 10.5 23.8 13.5 25.3C16.5 26.8 19 28 20 29.3C20.5 30 20.2 30.7 19.6 30.7" fill="none" stroke="#111" stroke-width="1.6"/><path d="M8.7 22.9L9.6 26.6" stroke="#111" stroke-width="1.0"/></g>
<path transform="translate(164.8 213.1)" d="M0.4 15.2C2.4 13.2 4.3 9.5 5.0 5.0C5.4 2.0 5.4 0.2 4.7 0.4C3.5 0.7 2.4 4.0 2.3 7.5C2.2 11.0 2.9 13.6 4.6 13.8C6.0 14.0 7.2 13.6 8.0 13.0" fill="none" stroke="#111" stroke-width="1.15" stroke-linecap="round"/>
<path transform="translate(469 215.2)" d="M0.4 15.2C2.4 13.2 4.3 9.5 5.0 5.0C5.4 2.0 5.4 0.2 4.7 0.4C3.5 0.7 2.4 4.0 2.3 7.5C2.2 11.0 2.9 13.6 4.6 13.8C6.0 14.0 7.2 13.6 8.0 13.0" fill="none" stroke="#111" stroke-width="1.15" stroke-linecap="round"/>
<path transform="translate(157.3 397.3)" d="M0.4 15.2C2.4 13.2 4.3 9.5 5.0 5.0C5.4 2.0 5.4 0.2 4.7 0.4C3.5 0.7 2.4 4.0 2.3 7.5C2.2 11.0 2.9 13.6 4.6 13.8C6.0 14.0 7.2 13.6 8.0 13.0" fill="none" stroke="#111" stroke-width="1.15" stroke-linecap="round"/>
<path transform="translate(469.5 399)" d="M0.4 15.2C2.4 13.2 4.3 9.5 5.0 5.0C5.4 2.0 5.4 0.2 4.7 0.4C3.5 0.7 2.4 4.0 2.3 7.5C2.2 11.0 2.9 13.6 4.6 13.8C6.0 14.0 7.2 13.6 8.0 13.0" fill="none" stroke="#111" stroke-width="1.15" stroke-linecap="round"/>
</svg>
</body></html>
